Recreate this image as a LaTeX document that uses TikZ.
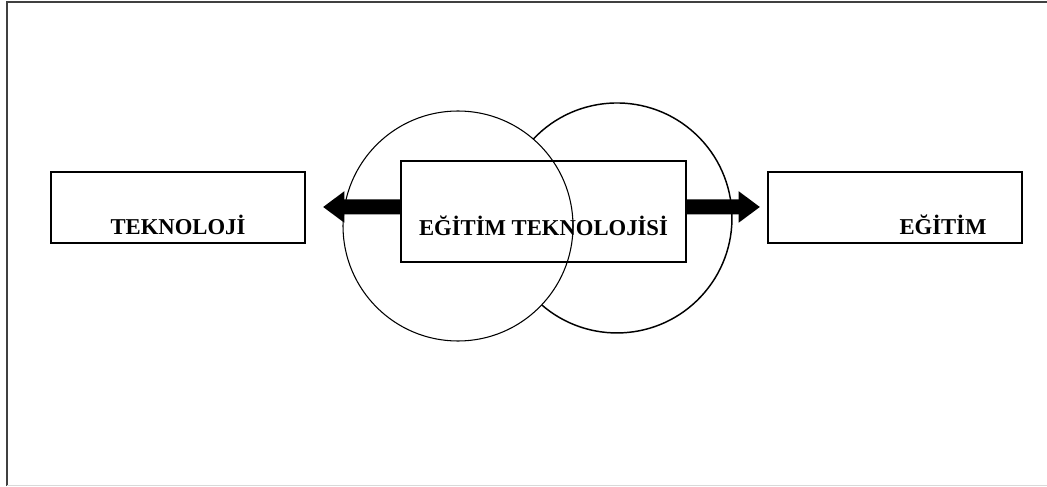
\documentclass[tikz,border=0pt]{standalone}
\usepackage{fontspec}
\setmainfont{Liberation Serif}
\usetikzlibrary{arrows.meta}
\tikzset{kutu/.style={draw,line width=1pt,inner sep=0pt,
  font=\fontsize{17}{20}\selectfont\bfseries},
 ok/.style={line width=11.25pt,-{Triangle[length=16pt,width=22.5pt]}},
 cember/.style={draw,circle,line width=0.8pt,minimum size=172.5pt,inner sep=0pt},
 }

\begin{document}
\begin{tikzpicture}[x=0.75pt,y=0.75pt]
        \useasboundingbox (0,0) rectangle (1047,486);
        % cerceve
        \draw[line width=1.5pt,black!75] (7,0) -- (7,484) -- (1047,484);
        \draw[black!15] (7,1) -- (1047,1);
        % cemberler
        \node[cember] (solcember) at (458,260) {};
        \draw[line width=1.1pt] (533.3,346.9) arc[start angle=136.7,end angle=-130.9,radius=115];
        % kutular
        \node[kutu,minimum width=190.5pt,text height=47.25pt,text depth=6pt] (teknoloji) at (178,278.5) {TEKNOLOJİ};
        \node[kutu,minimum width=190.5pt,text height=47.25pt,text depth=6pt] (egitim) at (895,278.5) {\hspace*{72pt}EĞİTİM};
        \node[kutu,minimum width=213.75pt,text height=56.25pt,text depth=19.5pt] (merkez) at (543.5,274.5) {EĞİTİM TEKNOLOJİSİ};
        % oklar
        \coordinate (soluc) at (323,279);
        \coordinate (saguc) at (760,279);
        \draw[ok] ([yshift=3.4pt]merkez.west) -- (soluc);
        \draw[ok] ([yshift=3.4pt]merkez.east) -- (saguc);
    \end{tikzpicture}
\end{document}
